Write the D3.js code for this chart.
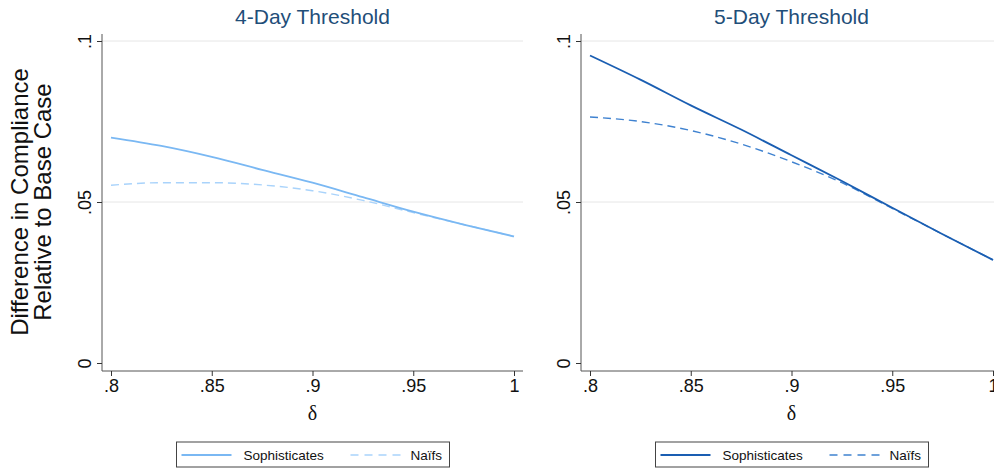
<!DOCTYPE html>
<html>
<head>
<meta charset="utf-8">
<script src="https://cdn.jsdelivr.net/npm/d3@7"></script>
<style>
  body { margin: 0; background: #fff; }
  text { font-family: "Liberation Sans", Arial, sans-serif; }
</style>
</head>
<body>
<svg id="chart" width="994" height="469"></svg>
<script>
// delta grid shared by all series
const deltas = [0.80, 0.825, 0.85, 0.875, 0.90, 0.925, 0.95, 0.975, 1.00];

// 4-day threshold
const soph4 = [0.0700, 0.0674, 0.0640, 0.0600, 0.0560, 0.0515, 0.0470, 0.0430, 0.0393];
const naif4 = [0.0552, 0.0560, 0.0560, 0.0553, 0.0535, 0.0505, 0.0467, 0.0430, 0.0393];

// 5-day threshold
const soph5 = [0.0955, 0.0880, 0.0800, 0.0725, 0.0645, 0.0565, 0.0482, 0.0400, 0.0320];
const naif5 = [0.0764, 0.0750, 0.0722, 0.0680, 0.0625, 0.0560, 0.0480, 0.0400, 0.0320];

const xTicks = [0.8, 0.85, 0.9, 0.95, 1];
const xTickLabels = [".8", ".85", ".9", ".95", "1"];
const yTicks = [0, 0.05, 0.1];
const yTickLabels = ["0", ".05", ".1"];
const legendLabels = ["Sophisticates", "Naïfs"];

const panels = [
  { title: "4-Day Threshold", soph: soph4, naif: naif4, left: 102, colS: "#7ab8f3", colN: "#a9d3fb" },
  { title: "5-Day Threshold", soph: soph5, naif: naif5, left: 581, colS: "#1a5eb2", colN: "#3f82d0" }
];

const svg = d3.select("#chart");
const yTop = 34, yBase = 371;
const y = d3.scaleLinear().domain([0, 0.1]).range([363, 41]);

panels.forEach(p => {
  const x = d3.scaleLinear().domain([0.8, 1]).range([p.left + 9, p.left + 412]);
  const right = p.left + 421;
  const g = svg.append("g");

  // gridlines
  g.selectAll("line.grid").data([0.05, 0.1]).enter().append("line")
    .attr("x1", p.left).attr("x2", Math.min(right, 994))
    .attr("y1", d => y(d)).attr("y2", d => y(d))
    .attr("stroke", "#e6e6e6").attr("stroke-width", 1);

  // y axis
  const ya = g.append("g").attr("transform", `translate(${p.left},0)`)
    .call(d3.axisLeft(y).tickValues(yTicks).tickSize(5).tickFormat((d, i) => yTickLabels[i]));
  ya.select(".domain").attr("d", `M0,${yTop}V${yBase}`).attr("stroke", "#555");
  ya.selectAll(".tick line").attr("stroke", "#333");
  ya.selectAll(".tick text")
    .attr("transform", "rotate(-90)")
    .attr("x", 0).attr("y", -11).attr("dy", 0)
    .attr("text-anchor", "middle")
    .style("font-size", "18px").attr("fill", "#111");

  // x axis
  const xa = g.append("g").attr("transform", `translate(0,${yBase})`)
    .call(d3.axisBottom(x).tickValues(xTicks).tickSize(5).tickFormat((d, i) => xTickLabels[i]));
  xa.select(".domain").attr("d", `M${p.left},0H${right}`).attr("stroke", "#555");
  xa.selectAll(".tick line").attr("stroke", "#333");
  xa.selectAll(".tick text").attr("y", 8).attr("dy", "0.71em")
    .style("font-size", "18px").attr("fill", "#111");

  // δ label
  g.append("text").attr("x", x(0.9)).attr("y", 420).attr("text-anchor", "middle")
    .style("font-family", "'Liberation Serif', serif").style("font-size", "20px")
    .attr("fill", "#111").text("δ");

  // title
  g.append("text").attr("x", x(0.9)).attr("y", 24).attr("text-anchor", "middle")
    .style("font-size", "21px").attr("fill", "#1f4e79").text(p.title);

  const line = d3.line().x(d => x(d[0])).y(d => y(d[1])).curve(d3.curveMonotoneX);

  g.append("path").datum(deltas.map((d, i) => [d, p.naif[i]]))
    .attr("d", line).attr("fill", "none").attr("stroke", p.colN)
    .attr("stroke-width", 1.4).attr("stroke-dasharray", "8,5");
  g.append("path").datum(deltas.map((d, i) => [d, p.soph[i]]))
    .attr("d", line).attr("fill", "none").attr("stroke", p.colS)
    .attr("stroke-width", 1.8);

  // legend
  const lx = x(0.9) - 136;
  const lg = g.append("g").attr("transform", `translate(${lx},442)`);
  lg.append("rect").attr("width", 273).attr("height", 25)
    .attr("fill", "#fff").attr("stroke", "#444").attr("stroke-width", 1);
  lg.append("line").attr("x1", 5).attr("x2", 55).attr("y1", 13).attr("y2", 13)
    .attr("stroke", p.colS).attr("stroke-width", 1.8);
  lg.append("text").attr("x", 67).attr("y", 17.5).style("font-size", "13.5px")
    .attr("fill", "#111").text(legendLabels[0]);
  lg.append("line").attr("x1", 174).attr("x2", 224).attr("y1", 13).attr("y2", 13)
    .attr("stroke", p.colN).attr("stroke-width", 1.4).attr("stroke-dasharray", "8,6");
  lg.append("text").attr("x", 234).attr("y", 17.5).style("font-size", "13.5px")
    .attr("fill", "#111").text(legendLabels[1]);
});

// shared y axis title
const yt = svg.append("text").attr("transform", "translate(0,202) rotate(-90)")
  .attr("text-anchor", "middle").style("font-size", "24px").attr("fill", "#111");
yt.append("tspan").attr("x", 0).attr("y", 28).text("Difference in Compliance");
yt.append("tspan").attr("x", 0).attr("y", 51).text("Relative to Base Case");
</script>
</body>
</html>
